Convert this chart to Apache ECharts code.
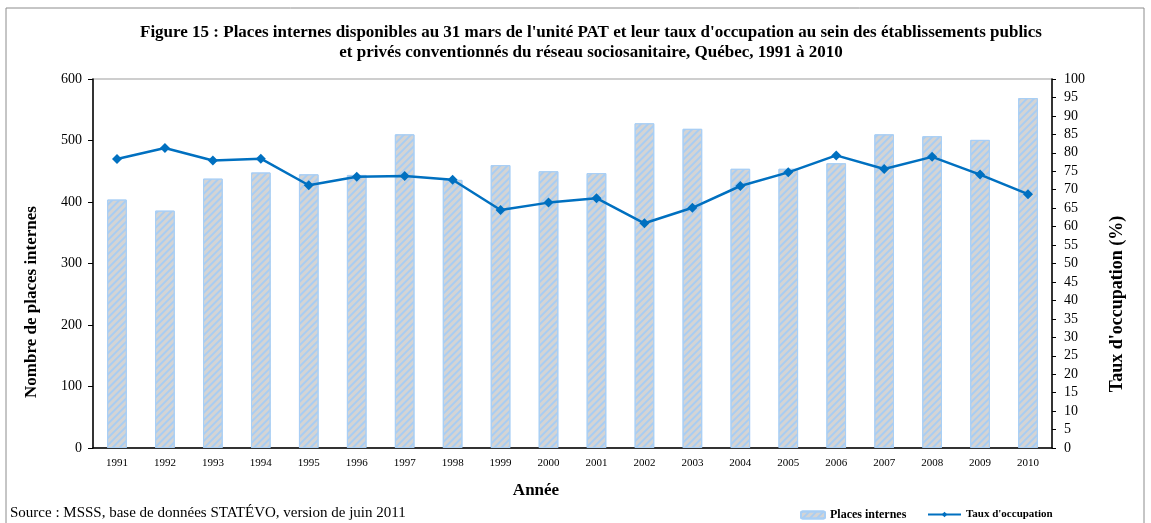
<!DOCTYPE html>
<html>
<head>
<meta charset="utf-8">
<script src="https://cdn.jsdelivr.net/npm/echarts@6/dist/echarts.min.js"></script>
<style>
  html, body { margin: 0; padding: 0; background: #fff; }
  #chart { width: 1151px; height: 523px; }
</style>
</head>
<body>
<div id="chart"></div>
<script>
// années
var years = ['1991', '1992', '1993', '1994', '1995', '1996', '1997', '1998', '1999', '2000',
             '2001', '2002', '2003', '2004', '2005', '2006', '2007', '2008', '2009', '2010'];
// places internes disponibles au 31 mars
var placesInternes = [404, 386, 438, 448, 445, 444, 510, 436, 460, 450,
                      447, 528, 519, 454, 454, 463, 510, 507, 501, 569];
// taux d'occupation (%)
var tauxOccupation = [78.3, 81.3, 77.9, 78.4, 71.2, 73.5, 73.7, 72.7, 64.5, 66.5,
                      67.7, 60.9, 65.1, 71.0, 74.7, 79.3, 75.6, 78.9, 74.1, 68.8];

var serif = '"Liberation Serif", "DejaVu Serif", serif';

var chart = echarts.init(document.getElementById('chart'));
var option = {
  animation: false,
  textStyle: { fontFamily: serif },
  title: {
    text: "Figure 15 : Places internes disponibles au 31 mars de l'unité PAT et leur taux d'occupation au sein des établissements publics\net privés conventionnés du réseau sociosanitaire, Québec, 1991 à 2010",
    left: 586,
    top: 18,
    textAlign: 'center',
    textStyle: { fontFamily: serif, fontSize: 17, fontWeight: 'bold', color: '#000', lineHeight: 20 }
  },
  legend: [
    {
      left: 795,
      top: 504,
      itemWidth: 24,
      itemHeight: 7,
      textStyle: { fontFamily: serif, fontSize: 12, fontWeight: 'bold', color: '#000' },
      data: ['Places internes']
    },
    {
      left: 922,
      top: 504,
      itemWidth: 33,
      itemHeight: 7,
      textStyle: { fontFamily: serif, fontSize: 11, fontWeight: 'bold', color: '#000' },
      data: ["Taux d'occupation"]
    }
  ],
  grid: {
    left: 93,
    right: 99,
    top: 79,
    bottom: 75,
    show: true,
    borderColor: '#bfbfbf',
    borderWidth: 1.5
  },
  xAxis: {
    type: 'category',
    data: years,
    axisLine: { lineStyle: { color: '#000', width: 1.5 } },
    axisTick: { show: false },
    axisLabel: { color: '#000', fontSize: 11, fontFamily: serif, margin: 10 }
  },
  yAxis: [
    {
      type: 'value',
      min: 0,
      max: 600,
      interval: 100,
      axisLine: { show: true, lineStyle: { color: '#000', width: 1.5 } },
      axisTick: { show: true, length: 5, lineStyle: { color: '#000' } },
      axisLabel: { color: '#000', fontSize: 14, fontFamily: serif, margin: 11 },
      splitLine: { show: false }
    },
    {
      type: 'value',
      min: 0,
      max: 100,
      interval: 5,
      axisLine: { show: true, lineStyle: { color: '#000', width: 1.5 } },
      axisTick: { show: true, length: 4, lineStyle: { color: '#000' } },
      axisLabel: { color: '#000', fontSize: 14, fontFamily: serif, margin: 12 },
      splitLine: { show: false }
    }
  ],
  series: [
    {
      name: 'Places internes',
      type: 'bar',
      yAxisIndex: 0,
      barWidth: '41%',
      data: placesInternes,
      itemStyle: {
        color: '#d4d4d4',
        borderColor: '#a9cff5',
        borderWidth: 1,
        decal: {
          symbol: 'rect',
          color: '#a9cdf2',
          dashArrayX: [1, 0],
          dashArrayY: [2, 3],
          rotation: -Math.PI / 4
        }
      }
    },
    {
      name: "Taux d'occupation",
      type: 'line',
      yAxisIndex: 1,
      data: tauxOccupation,
      symbol: 'diamond',
      symbolSize: 10,
      lineStyle: { color: '#0070c0', width: 2.5 },
      itemStyle: { color: '#0070c0' }
    }
  ],
  graphic: [
    {
      type: 'rect',
      silent: true,
      shape: { x: 6, y: 8, width: 1138, height: 530 },
      style: { fill: 'none', stroke: '#8c8c8c', lineWidth: 1 }
    },
    {
      type: 'text',
      x: 32, y: 302,
      rotation: Math.PI / 2,
      style: {
        text: 'Nombre de places internes',
        font: 'bold 17px ' + serif,
        fill: '#000',
        align: 'center',
        verticalAlign: 'middle'
      }
    },
    {
      type: 'text',
      x: 1117, y: 304,
      rotation: Math.PI / 2,
      style: {
        text: "Taux d'occupation (%)",
        font: 'bold 18px ' + serif,
        fill: '#000',
        align: 'center',
        verticalAlign: 'middle'
      }
    },
    {
      type: 'text',
      x: 536, y: 491,
      style: {
        text: 'Année',
        font: 'bold 17px ' + serif,
        fill: '#000',
        align: 'center',
        verticalAlign: 'middle'
      }
    },
    {
      type: 'text',
      x: 10, y: 513,
      style: {
        text: 'Source : MSSS, base de données STATÉVO, version de juin 2011',
        font: '15px ' + serif,
        fill: '#000',
        align: 'left',
        verticalAlign: 'middle'
      }
    }
  ]
};
chart.setOption(option);
</script>
</body>
</html>
